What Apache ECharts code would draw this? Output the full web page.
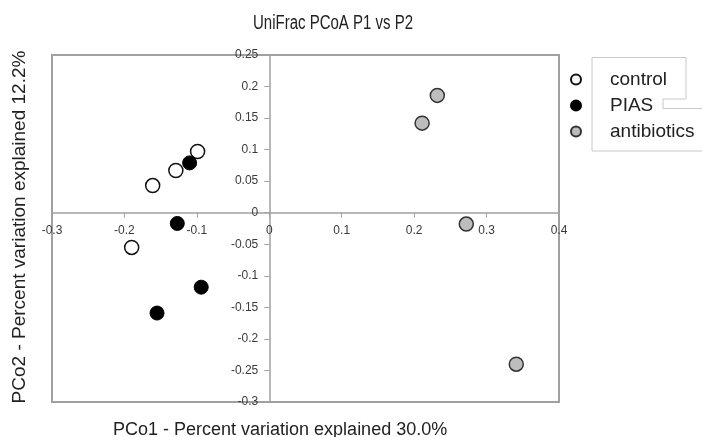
<!DOCTYPE html>
<html>
<head>
<meta charset="utf-8">
<script src="https://cdn.jsdelivr.net/npm/echarts@6/dist/echarts.min.js"></script>
<style>
  html, body { margin: 0; padding: 0; background: #fff; }
  #chart { width: 702px; height: 437px; }
</style>
</head>
<body>
<div id="chart"></div>
<script>
// PCo1 / PCo2 coordinates
const control = [[-0.161, 0.043], [-0.129, 0.067], [-0.099, 0.097], [-0.190, -0.055]];
const pias = [[-0.110, 0.079], [-0.127, -0.017], [-0.094, -0.118], [-0.155, -0.159]];
const antibiotics = [[0.232, 0.186], [0.211, 0.142], [0.272, -0.018], [0.341, -0.240]];

const xMin = -0.3, xMax = 0.4, xStep = 0.1;
const yMin = -0.3, yMax = 0.25, yStep = 0.05;

const W = 702, H = 437;
const grid = { left: 52, right: 143, top: 55, bottom: 35 };
const plotW = W - grid.left - grid.right;
const plotH = H - grid.top - grid.bottom;

const font = "'Liberation Sans', Arial, sans-serif";
const gray = "#a0a0a0";

// axes cross at the origin, like the Excel original
const xOffset = -plotH * (0 - yMin) / (yMax - yMin);
const yOffset = -plotW * (0 - xMin) / (xMax - xMin);

const chart = echarts.init(document.getElementById("chart"));

const axisCommon = {
  axisLine: { onZero: false, lineStyle: { color: gray, width: 1.5 } },
  axisTick: { show: true, inside: false, length: 5, lineStyle: { color: gray } },
  axisLabel: { color: "#3a3a3a", fontSize: 12, fontFamily: font, margin: 12 },
  splitLine: { show: false },
};

chart.setOption({
  backgroundColor: "#fff",
  animation: false,
  title: {
    text: "PCo1 - Percent variation explained 30.0%",
    left: 108,
    top: 416,
    textStyle: { fontFamily: font, fontSize: 18, fontWeight: "normal", color: "#222" },
  },
  grid: { ...grid, show: true, borderColor: gray, borderWidth: 2 },
  xAxis: [
    { ...axisCommon, type: "value", position: "bottom", offset: xOffset, min: xMin, max: xMax, interval: xStep },
  ],
  yAxis: [
    {
      ...axisCommon, type: "value", position: "left", offset: yOffset, min: yMin, max: yMax, interval: yStep,
      axisLabel: { ...axisCommon.axisLabel, margin: 11 },
    },
    {
      type: "value", position: "left", min: yMin, max: yMax, interval: yStep,
      axisLine: { show: false }, axisTick: { show: false }, axisLabel: { show: false }, splitLine: { show: false },
      name: "PCo2 - Percent variation explained 12.2%",
      nameLocation: "middle",
      nameRotate: 90,
      nameGap: 23,
      nameTextStyle: { fontFamily: font, fontSize: 19, color: "#222", padding: [0, 0, 0, 3] },
    },
  ],
  legend: {
    orient: "vertical",
    left: 565,
    top: 65,
    itemWidth: 10,
    itemHeight: 10,
    itemGap: 7,
    textStyle: { fontFamily: font, fontSize: 19, color: "#222", padding: [0, 0, 0, 24], lineHeight: 19 },
    data: ["control", "PIAS", "antibiotics"],
  },
  graphic: [
    {
      type: "text",
      silent: true,
      x: 253,
      y: 23,
      scaleX: 0.75,
      style: {
        text: "UniFrac PCoA P1 vs P2",
        fontFamily: font,
        fontSize: 20,
        fill: "#222",
        verticalAlign: "middle",
      },
    },
    {
      type: "polyline",
      silent: true,
      shape: { points: [[702, 151], [592, 151], [592, 57.5], [686, 57.5], [686, 99], [663, 99], [663, 108.5], [702, 108.5]] },
      style: { fill: null, stroke: "#c8c8c8", lineWidth: 1 },
    },
  ],
  series: [
    {
      name: "control", type: "scatter", data: control, symbol: "circle", symbolSize: 14,
      itemStyle: { color: "#fff", borderColor: "#111", borderWidth: 1.5, opacity: 1 },
    },
    {
      name: "PIAS", type: "scatter", data: pias, symbol: "circle", symbolSize: 14,
      itemStyle: { color: "#000", borderColor: "#000", borderWidth: 1, opacity: 1 },
    },
    {
      name: "antibiotics", type: "scatter", data: antibiotics, symbol: "circle", symbolSize: 14,
      itemStyle: { color: "#bdbdbd", borderColor: "#333", borderWidth: 1.5, opacity: 1 },
    },
  ],
});
</script>
</body>
</html>
